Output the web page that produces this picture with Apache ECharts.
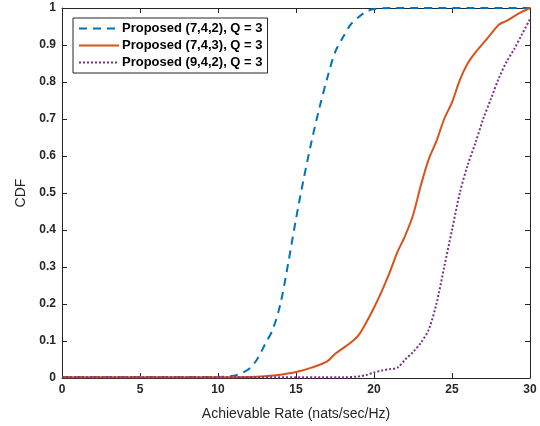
<!DOCTYPE html>
<html>
<head>
<meta charset="utf-8">
<script src="https://cdn.jsdelivr.net/npm/echarts@6/dist/echarts.min.js"></script>
<style>
  html, body { margin: 0; padding: 0; background: #fff; }
  #chart { width: 540px; height: 426px; }
</style>
</head>
<body>
<div id="chart"></div>
<script>
// 曲线数据
var blueX = [0, 10, 11, 11.5, 12, 12.5, 13, 13.5, 14, 14.5, 15, 15.5, 16, 16.5, 17, 17.5, 18, 18.5, 19, 19.5, 20, 21, 30];
var blueY = [0.003, 0.003, 0.006, 0.013, 0.025, 0.05, 0.09, 0.13, 0.2, 0.31, 0.43, 0.54, 0.64, 0.73, 0.81, 0.88, 0.92, 0.955, 0.975, 0.99, 0.997, 1, 1];

var orangeX = [0, 10, 12, 13, 14, 15, 16, 17, 17.5, 18, 18.5, 19, 19.5, 20, 20.5, 21, 21.5, 22, 22.5, 23, 23.5, 24, 24.5, 25, 25.5, 26, 26.5, 27, 27.5, 28, 28.5, 29, 29.5, 30];
var orangeY = [0.002, 0.002, 0.003, 0.005, 0.009, 0.016, 0.028, 0.045, 0.065, 0.08, 0.095, 0.115, 0.15, 0.19, 0.235, 0.285, 0.34, 0.385, 0.44, 0.52, 0.59, 0.64, 0.70, 0.745, 0.805, 0.85, 0.88, 0.905, 0.93, 0.955, 0.965, 0.978, 0.99, 1.0];

var purpleX = [0, 18, 19, 19.5, 20, 20.5, 21, 21.5, 22, 22.5, 23, 23.5, 24, 24.5, 25, 25.5, 26, 26.5, 27, 27.5, 28, 28.5, 29, 29.5, 30];
var purpleY = [0.002, 0.002, 0.004, 0.008, 0.015, 0.02, 0.024, 0.028, 0.05, 0.07, 0.095, 0.13, 0.2, 0.3, 0.4, 0.5, 0.575, 0.635, 0.7, 0.755, 0.81, 0.855, 0.89, 0.93, 0.97];

var seriesNames = ['Proposed (7,4,2), Q = 3', 'Proposed (7,4,3), Q = 3', 'Proposed (9,4,2), Q = 3'];

function zip(xs, ys) {
  return xs.map(function (x, i) { return [x, ys[i]]; });
}

var font = 'Liberation Sans, Arial, Helvetica, sans-serif';
var axisColor = '#262626';

var myChart = echarts.init(document.getElementById('chart'));
myChart.setOption({
  animation: false,
  textStyle: { fontFamily: font },
  grid: { left: 62, right: 10, top: 8, bottom: 48, show: false },
  legend: {
    left: 73,
    top: 18,
    orient: 'vertical',
    backgroundColor: '#fff',
    borderColor: '#262626',
    borderWidth: 1,
    padding: [4, 5, 4, 5],
    itemGap: 4,
    itemWidth: 40,
    itemHeight: 13,
    itemStyle: { opacity: 0, borderWidth: 0 },
    textStyle: { fontFamily: font, fontSize: 13, fontWeight: 'bold', color: '#000', padding: [0, 0, 0, -2] },
    data: seriesNames
  },
  xAxis: [{
    type: 'value',
    min: 0, max: 30, interval: 5,
    name: 'Achievable Rate (nats/sec/Hz)',
    nameLocation: 'middle',
    nameGap: 29,
    nameTextStyle: { fontSize: 14, color: axisColor },
    axisLine: { lineStyle: { color: axisColor } },
    axisTick: { inside: true, length: 5, lineStyle: { color: axisColor } },
    axisLabel: { fontSize: 12, fontWeight: 'bold', color: axisColor, margin: 6 },
    splitLine: { show: false }
  }, {
    type: 'value',
    position: 'top',
    min: 0, max: 30, interval: 5,
    axisLine: { show: true, onZero: false, lineStyle: { color: axisColor } },
    axisTick: { inside: true, length: 5, lineStyle: { color: axisColor } },
    axisLabel: { show: false },
    splitLine: { show: false }
  }],
  yAxis: [{
    type: 'value',
    min: 0, max: 1, interval: 0.1,
    name: 'CDF',
    nameLocation: 'middle',
    nameGap: 33,
    nameTextStyle: { fontSize: 14, color: axisColor },
    axisLine: { show: true, lineStyle: { color: axisColor } },
    axisTick: { show: true, inside: true, length: 5, lineStyle: { color: axisColor } },
    axisLabel: { fontSize: 12, fontWeight: 'bold', color: axisColor, margin: 6 },
    splitLine: { show: false }
  }, {
    type: 'value',
    position: 'right',
    min: 0, max: 1, interval: 0.1,
    axisLine: { show: true, onZero: false, lineStyle: { color: axisColor } },
    axisTick: { show: true, inside: true, length: 5, lineStyle: { color: axisColor } },
    axisLabel: { show: false },
    splitLine: { show: false }
  }],
  series: [{
    name: seriesNames[0],
    type: 'line',
    showSymbol: false,
    symbol: 'none',
    smooth: 0.3,
    data: zip(blueX, blueY),
    lineStyle: { color: '#0072BD', width: 2, type: [8, 6] },
    itemStyle: { color: '#0072BD' }
  }, {
    name: seriesNames[1],
    type: 'line',
    showSymbol: false,
    symbol: 'none',
    smooth: 0.3,
    data: zip(orangeX, orangeY),
    lineStyle: { color: '#D95319', width: 2 },
    itemStyle: { color: '#D95319' }
  }, {
    name: seriesNames[2],
    type: 'line',
    showSymbol: false,
    symbol: 'none',
    smooth: 0.3,
    data: zip(purpleX, purpleY),
    lineStyle: { color: '#7E2F8E', width: 2, type: [2, 2] },
    itemStyle: { color: '#7E2F8E' }
  }]
});
</script>
</body>
</html>
